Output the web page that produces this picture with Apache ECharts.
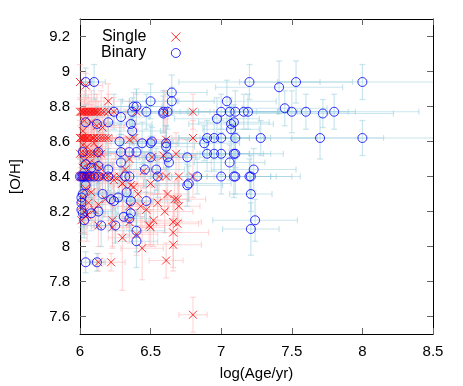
<!DOCTYPE html>
<html>
<head>
<meta charset="utf-8">
<script src="https://cdn.jsdelivr.net/npm/echarts@6/dist/echarts.min.js"></script>
<style>
html, body { margin: 0; padding: 0; background: #fff; }
#main { width: 463px; height: 386px; }
</style>
</head>
<body>
<div id="main"></div>
<script>
// [log(Age/yr), [O/H], age error, O/H error]
var singlePts = [
[6.00,8.94,0.08,0.10],[6.04,8.92,0.12,0.07],[6.20,8.83,0.15,0.10],
[6.00,8.77,0.10,0.08],[6.01,8.77,0.15,0.10],[6.02,8.77,0.08,0.06],[6.03,8.77,0.20,0.12],[6.04,8.77,0.10,0.08],
[6.05,8.77,0.12,0.05],[6.06,8.77,0.18,0.10],[6.07,8.77,0.10,0.08],[6.08,8.77,0.25,0.12],[6.09,8.77,0.10,0.06],
[6.10,8.77,0.15,0.10],[6.11,8.77,0.20,0.08],[6.12,8.77,0.10,0.10],[6.13,8.77,0.15,0.06],[6.15,8.77,0.30,0.12],
[6.17,8.77,0.12,0.08],[6.20,8.77,0.20,0.10],[6.24,8.77,0.15,0.08],[6.40,8.77,0.25,0.10],[6.60,8.77,0.20,0.12],[6.80,8.77,0.15,0.10],
[6.08,8.71,0.12,0.10],[6.16,8.68,0.15,0.08],[6.03,8.72,0.10,0.12],[6.12,8.69,0.20,0.10],[6.02,8.66,0.08,0.08],
[6.00,8.62,0.10,0.10],[6.01,8.62,0.15,0.08],[6.02,8.62,0.20,0.12],[6.03,8.62,0.08,0.06],[6.04,8.62,0.12,0.10],
[6.05,8.62,0.18,0.08],[6.06,8.62,0.10,0.12],[6.08,8.62,0.15,0.10],[6.09,8.62,0.25,0.08],[6.10,8.62,0.10,0.06],
[6.12,8.62,0.20,0.10],[6.14,8.62,0.12,0.12],[6.16,8.62,0.15,0.08],[6.18,8.62,0.10,0.10],[6.20,8.62,0.20,0.08],
[6.35,8.61,0.25,0.12],[6.38,8.62,0.15,0.10],[6.61,8.61,0.20,0.12],[6.80,8.62,0.15,0.10],
[6.02,8.58,0.10,0.10],[6.05,8.57,0.15,0.08],[6.10,8.59,0.12,0.12],[6.13,8.56,0.20,0.10],
[6.00,8.53,0.10,0.08],[6.02,8.53,0.15,0.10],[6.04,8.53,0.08,0.12],[6.06,8.53,0.20,0.08],[6.08,8.53,0.12,0.10],
[6.10,8.53,0.15,0.06],[6.12,8.53,0.10,0.10],[6.15,8.53,0.20,0.12],[6.51,8.51,0.15,0.10],[6.59,8.52,0.20,0.08],[6.68,8.53,0.15,0.12],
[6.35,8.50,0.20,0.10],[6.03,8.49,0.10,0.08],[6.07,8.48,0.15,0.12],[6.11,8.47,0.12,0.10],
[6.32,8.44,0.20,0.12],[6.45,8.43,0.15,0.10],[6.02,8.45,0.10,0.08],[6.06,8.44,0.12,0.10],[6.14,8.45,0.18,0.12],
[6.00,8.40,0.10,0.10],[6.01,8.40,0.15,0.08],[6.02,8.40,0.08,0.12],[6.03,8.40,0.20,0.10],[6.04,8.40,0.12,0.06],
[6.05,8.40,0.10,0.10],[6.06,8.40,0.18,0.12],[6.07,8.40,0.12,0.08],[6.08,8.40,0.25,0.10],[6.10,8.40,0.10,0.12],
[6.12,8.40,0.15,0.08],[6.14,8.40,0.20,0.10],[6.16,8.40,0.12,0.12],[6.18,8.40,0.15,0.10],[6.20,8.40,0.10,0.08],
[6.24,8.40,0.20,0.10],[6.28,8.40,0.15,0.12],[6.56,8.40,0.20,0.10],[6.61,8.40,0.15,0.12],[6.70,8.40,0.20,0.10],[6.80,8.40,0.15,0.12],
[6.24,8.38,0.12,0.10],[6.50,8.36,0.20,0.12],[6.38,8.34,0.15,0.10],[6.30,8.36,0.10,0.08],[6.36,8.35,0.15,0.12],
[6.04,8.33,0.10,0.10],[6.08,8.31,0.12,0.12],[6.02,8.28,0.08,0.10],[6.06,8.25,0.15,0.12],[6.01,8.23,0.10,0.15],
[6.03,8.20,0.08,0.12],[6.05,8.18,0.12,0.15],[6.04,8.17,0.10,0.10],[6.01,8.15,0.08,0.12],[6.10,8.21,0.15,0.10],
[6.13,8.24,0.10,0.12],[6.18,8.27,0.12,0.10],[6.69,8.27,0.20,0.12],[6.70,8.23,0.15,0.15],[6.67,8.27,0.10,0.10],
[6.43,8.23,0.20,0.12],[6.47,8.21,0.15,0.10],[6.35,8.23,0.12,0.12],[6.52,8.15,0.20,0.15],[6.49,8.12,0.15,0.12],
[6.50,8.11,0.10,0.10],[6.35,8.14,0.15,0.12],[6.23,8.15,0.12,0.15],[6.23,8.11,0.10,0.12],[6.66,8.14,0.20,0.15],
[6.69,8.13,0.15,0.12],[6.66,8.08,0.25,0.20],[6.66,8.01,0.20,0.15],[6.61,7.92,0.12,0.10],[6.80,7.61,0.10,0.10],
[6.44,7.99,0.15,0.18],[6.13,7.91,0.05,0.05],[6.22,7.91,0.10,0.05],[6.41,8.30,0.20,0.12],[6.55,8.25,0.15,0.10],
[6.60,8.20,0.20,0.12],[6.30,8.36,0.15,0.20],[6.30,8.05,0.10,0.30],[6.40,8.07,0.15,0.12],[6.13,8.12,0.10,0.12],[6.62,8.30,0.15,0.10]
];
var binaryPts = [
[6.04,8.94,0.05,0.08],[6.10,8.94,0.08,0.10],[7.20,8.94,0.50,0.10],[7.53,8.94,0.40,0.12],[8.00,8.94,0.60,0.10],
[7.41,8.91,0.45,0.15],[6.65,8.88,0.25,0.10],
[6.65,8.83,0.30,0.08],[6.50,8.83,0.20,0.10],[7.04,8.83,0.35,0.12],[6.40,8.80,0.25,0.10],[6.38,8.80,0.20,0.08],
[6.24,8.77,0.20,0.10],[6.37,8.77,0.25,0.08],[6.47,8.77,0.30,0.10],[6.59,8.77,0.25,0.12],[6.62,8.77,0.30,0.10],
[7.00,8.77,0.40,0.10],[7.06,8.77,0.35,0.08],[7.10,8.77,0.30,0.12],[7.16,8.77,0.40,0.10],[7.19,8.77,0.35,0.10],
[7.45,8.79,0.30,0.10],[7.50,8.77,0.40,0.12],[7.60,8.77,0.35,0.10],[7.72,8.76,0.50,0.08],[7.80,8.77,0.60,0.10],[6.59,8.76,0.20,0.10],
[6.29,8.74,0.20,0.10],[6.97,8.73,0.30,0.12],[7.09,8.71,0.25,0.10],[7.07,8.70,0.30,0.10],[7.07,8.67,0.20,0.12],
[6.36,8.70,0.15,0.10],[6.37,8.66,0.20,0.08],[6.04,8.71,0.10,0.10],[6.20,8.71,0.15,0.08],[6.12,8.70,0.10,0.10],
[6.90,8.62,0.30,0.10],[6.95,8.62,0.25,0.12],[7.00,8.62,0.30,0.10],[7.10,8.62,0.25,0.08],[7.28,8.62,0.40,0.10],
[7.70,8.62,0.45,0.12],[8.00,8.62,0.50,0.10],[6.28,8.60,0.20,0.10],[6.44,8.59,0.25,0.12],[6.50,8.59,0.20,0.10],
[6.61,8.59,0.30,0.10],[6.51,8.60,0.15,0.08],[6.88,8.59,0.25,0.10],[6.61,8.57,0.20,0.12],
[6.90,8.53,0.30,0.10],[6.95,8.53,0.25,0.10],[7.00,8.53,0.30,0.12],[7.09,8.53,0.35,0.10],[7.10,8.53,0.25,0.08],
[6.76,8.51,0.30,0.10],[6.02,8.54,0.10,0.10],[6.13,8.54,0.15,0.12],[6.29,8.54,0.20,0.10],[6.35,8.54,0.15,0.08],
[6.40,8.54,0.20,0.10],[6.50,8.51,0.25,0.12],[6.62,8.51,0.20,0.10],[6.63,8.48,0.30,0.10],[7.06,8.48,0.25,0.10],[7.23,8.44,0.30,0.12],
[6.13,8.46,0.10,0.10],[6.20,8.44,0.15,0.12],[6.29,8.48,0.20,0.10],[6.46,8.44,0.15,0.10],[6.54,8.44,0.20,0.12],
[6.04,8.47,0.08,0.10],[6.08,8.45,0.10,0.08],
[6.00,8.40,0.08,0.10],[6.01,8.40,0.10,0.12],[6.02,8.40,0.12,0.10],[6.03,8.40,0.08,0.08],[6.05,8.40,0.15,0.10],
[6.07,8.40,0.10,0.12],[6.10,8.40,0.20,0.10],[6.13,8.40,0.15,0.10],[6.20,8.40,0.20,0.12],[6.32,8.40,0.25,0.10],
[6.35,8.40,0.20,0.10],[6.55,8.40,0.25,0.12],[6.83,8.40,0.30,0.10],[7.00,8.40,0.35,0.10],[7.09,8.40,0.30,0.12],
[7.10,8.40,0.25,0.10],[7.20,8.40,0.30,0.10],[7.21,8.40,0.35,0.12],[6.77,8.36,0.30,0.10],[6.76,8.35,0.25,0.12],
[7.21,8.30,0.15,0.10],[7.24,8.15,0.30,0.12],[7.21,8.10,0.20,0.15],
[6.16,8.30,0.15,0.10],[6.22,8.27,0.20,0.12],[6.24,8.26,0.15,0.10],[6.27,8.28,0.10,0.10],[6.33,8.31,0.20,0.12],
[6.36,8.26,0.15,0.10],[6.47,8.26,0.20,0.12],[6.13,8.20,0.10,0.10],[6.31,8.17,0.15,0.12],[6.36,8.19,0.10,0.10],
[6.35,8.16,0.15,0.10],[6.15,8.12,0.10,0.12],[6.25,8.12,0.15,0.10],[6.40,8.09,0.20,0.12],[6.40,8.03,0.15,0.15],
[6.01,8.21,0.08,0.10],[6.02,8.19,0.10,0.12],[6.08,8.19,0.12,0.10],[6.01,8.25,0.08,0.10],[6.02,8.30,0.10,0.12],
[6.04,8.35,0.08,0.10],[6.01,8.28,0.06,0.12],[6.03,8.15,0.08,0.10],[6.04,7.91,0.05,0.06],[6.12,7.91,0.05,0.05]
];
var xTicks = [6, 6.5, 7, 7.5, 8, 8.5];
var yTicks = [7.6, 7.8, 8, 8.2, 8.4, 8.6, 8.8, 9, 9.2];

var X0 = 6, X1 = 8.5, Y0 = 7.5, Y1 = 9.3;

function errBars(color) {
  return function (params, api) {
    var x = api.value(0), y = api.value(1), dx = api.value(2), dy = api.value(3);
    var xl = Math.max(X0, x - dx), xr = Math.min(X1, x + dx);
    var yb = Math.max(Y0, y - dy), yt = Math.min(Y1, y + dy);
    var l = api.coord([xl, y]), r = api.coord([xr, y]);
    var t = api.coord([x, yt]), b = api.coord([x, yb]);
    var cap = 3;
    var st = { stroke: color, lineWidth: 1.2 };
    var kids = [
      { type: 'line', shape: { x1: l[0], y1: l[1], x2: r[0], y2: r[1] }, style: st },
      { type: 'line', shape: { x1: t[0], y1: t[1], x2: b[0], y2: b[1] }, style: st }
    ];
    if (xl > X0) kids.push({ type: 'line', shape: { x1: l[0], y1: l[1] - cap, x2: l[0], y2: l[1] + cap }, style: st });
    if (xr < X1) kids.push({ type: 'line', shape: { x1: r[0], y1: r[1] - cap, x2: r[0], y2: r[1] + cap }, style: st });
    if (yt < Y1) kids.push({ type: 'line', shape: { x1: t[0] - cap, y1: t[1], x2: t[0] + cap, y2: t[1] }, style: st });
    if (yb > Y0) kids.push({ type: 'line', shape: { x1: b[0] - cap, y1: b[1], x2: b[0] + cap, y2: b[1] }, style: st });
    return { type: 'group', children: kids };
  };
}

var font = 'Liberation Sans, Arial, sans-serif';
var chart = echarts.init(document.getElementById('main'));

chart.setOption({
  animation: false,
  backgroundColor: '#fff',
  textStyle: { fontFamily: font },
  grid: { left: 79, right: 30, top: 19, bottom: 52 },
  legend: {
    data: ['Single', 'Binary'],
    orient: 'vertical',
    align: 'right',
    left: 96,
    top: 24,
    itemGap: 0,
    itemWidth: 9,
    itemHeight: 9,
    itemStyle: { borderWidth: 1 },
    textStyle: { fontSize: 16, color: '#000', fontFamily: font, padding: [0, 20, 0, 0] }
  },
  xAxis: [{
    type: 'value', min: X0, max: X1, interval: 0.5, position: 'bottom',
    name: 'log(Age/yr)', nameLocation: 'middle', nameGap: 32,
    nameTextStyle: { fontSize: 15, color: '#000', fontFamily: font },
    axisLine: { lineStyle: { color: '#000', width: 1 } },
    axisTick: { inside: true, length: 6, lineStyle: { color: '#666' } },
    axisLabel: { fontSize: 15, color: '#000', margin: 10, fontFamily: font },
    splitLine: { show: false }
  }, {
    type: 'value', min: X0, max: X1, interval: 0.5, position: 'top',
    axisLine: { lineStyle: { color: '#000', width: 1 } },
    axisTick: { inside: true, length: 6, lineStyle: { color: '#666' } },
    axisLabel: { show: false },
    splitLine: { show: false }
  }],
  yAxis: [{
    type: 'value', min: Y0, max: Y1, position: 'left',
    name: '[O/H]', nameLocation: 'middle', nameGap: 57,
    nameTextStyle: { fontSize: 15, color: '#000', fontFamily: font },
    axisLine: { show: true, lineStyle: { color: '#000', width: 1 } },
    axisTick: { show: true, inside: true, length: 6, customValues: yTicks, lineStyle: { color: '#666' } },
    axisLabel: { fontSize: 15, color: '#000', margin: 10, customValues: yTicks, fontFamily: font },
    splitLine: { show: false }
  }, {
    type: 'value', min: Y0, max: Y1, position: 'right',
    axisLine: { show: true, lineStyle: { color: '#000', width: 1 } },
    axisTick: { show: true, inside: true, length: 6, customValues: yTicks, lineStyle: { color: '#666' } },
    axisLabel: { show: false },
    splitLine: { show: false }
  }],
  series: [{
    name: 'Single err', type: 'custom', data: singlePts, encode: { x: 0, y: 1 },
    renderItem: errBars('rgba(255,170,170,0.45)'), silent: true, z: 1
  }, {
    name: 'Binary err', type: 'custom', data: binaryPts, encode: { x: 0, y: 1 },
    renderItem: errBars('rgba(150,205,222,0.5)'), silent: true, z: 2
  }, {
    name: 'Single', type: 'scatter', data: singlePts, encode: { x: 0, y: 1 },
    symbol: 'path://M0 0L10 10M10 0L0 10', symbolSize: 8,
    itemStyle: { color: 'rgba(0,0,0,0)', borderColor: '#ff0000', borderWidth: 1 }, z: 3
  }, {
    name: 'Binary', type: 'scatter', data: binaryPts, encode: { x: 0, y: 1 },
    symbol: 'circle', symbolSize: 9,
    itemStyle: { color: 'rgba(0,0,0,0)', borderColor: '#0000ff', borderWidth: 1 }, z: 4
  }]
});
</script>
</body>
</html>
